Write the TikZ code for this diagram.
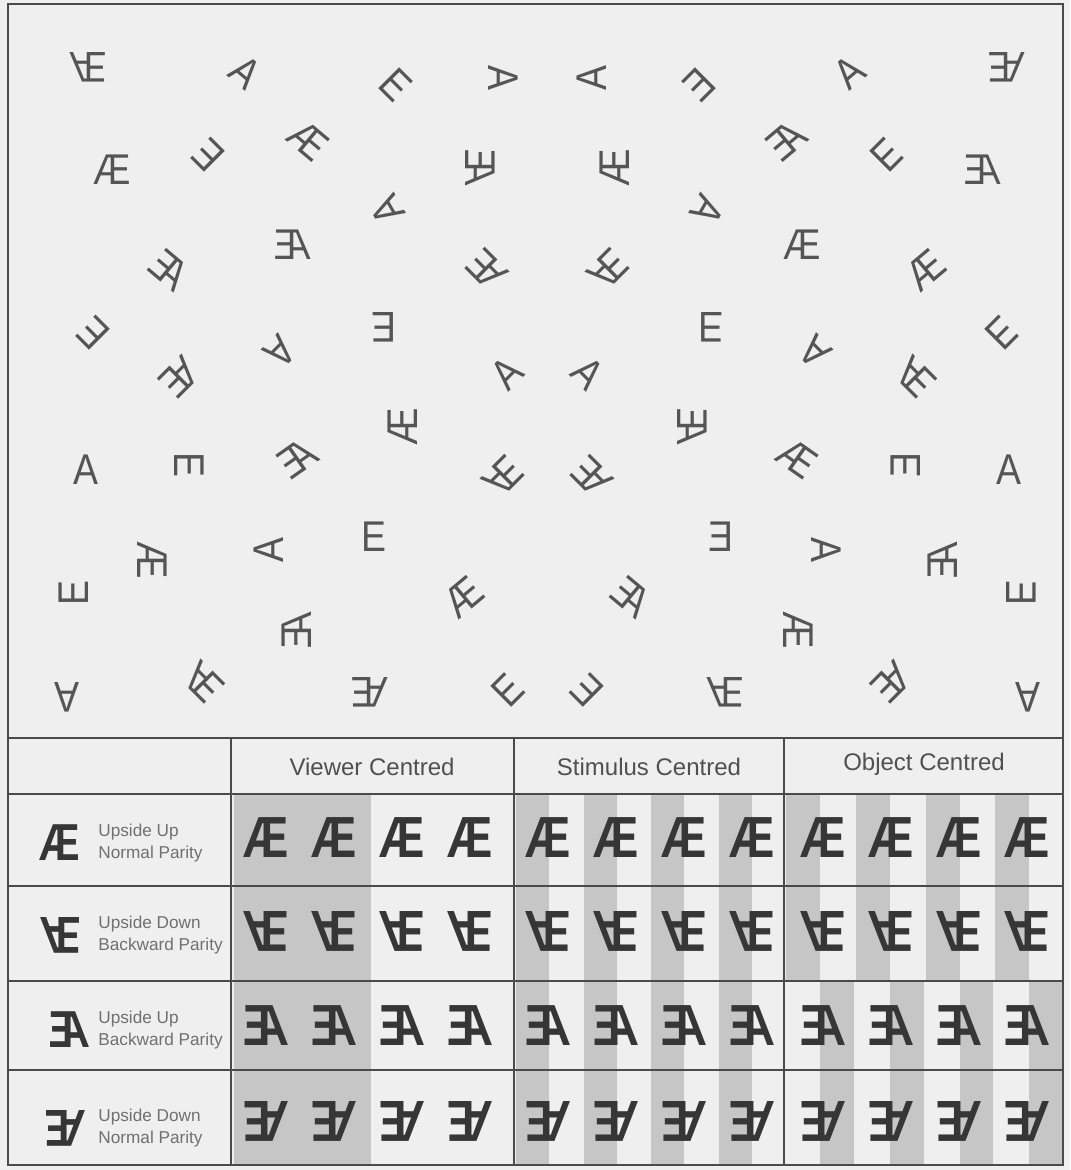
\documentclass[tikz,border=0pt]{standalone}
\usepackage{fontspec}
\setmainfont{Liberation Sans}
\usepackage{graphicx}
\usepackage{xcolor}
\definecolor{panelbg}{HTML}{EFEFEF}
\definecolor{stripegray}{HTML}{C6C6C6}
\definecolor{inkgray}{HTML}{555555}
\definecolor{darkink}{HTML}{363636}
\definecolor{labelgray}{HTML}{707070}
\definecolor{headgray}{HTML}{505050}
\definecolor{rulegray}{HTML}{4A4A4A}

% letters of the scattered panel
\newcommand{\glA}{\scalebox{0.87}[1]{A}}
\newcommand{\glE}{\scalebox{0.87}[1]{E}}
\newcommand{\glAE}{\scalebox{0.87}[1]{Æ}}
\newcommand{\glEA}{\scalebox{-0.87}[1]{Æ}}
% the four forms of the table
\newcommand{\aeN}{\scalebox{0.78}[1]{Æ}}
\newcommand{\aeV}{\scalebox{0.78}[-1]{Æ}}
\newcommand{\aeH}{\scalebox{-0.78}[1]{Æ}}
\newcommand{\aeR}{\rotatebox{180}{\aeN}}

\begin{document}
\begin{tikzpicture}[
  x=0.5pt, y=-0.5pt,
  letter/.style={inner sep=0pt, text=inkgray, font=\fontsize{21.5}{22}\selectfont},
  cellglyph/.style={inner sep=0pt, text=darkink, font=\fontsize{29}{30}\selectfont\bfseries},
  rowglyph/.style={inner sep=0pt, text=darkink, font=\fontsize{26}{27}\selectfont\bfseries},
  rowlabel/.style={inner sep=0pt, text=labelgray, align=left, font=\fontsize{8.6}{11}\selectfont},
  colhead/.style={inner sep=0pt, text=headgray, font=\fontsize{12}{13}\selectfont},
  rule/.style={draw=rulegray, line width=0.8pt},
]
  \useasboundingbox (0,0) rectangle (1070,1170);
  \fill[panelbg] (0,0) rectangle (1070,1170);

  % Scattered letters: left half, then its mirror image
  \foreach \x/\y/\g/\r [count=\i] in {
      88/67/\glEA/180, 246/72/\glA/-40, 396/85/\glE/-45, 503/78/\glA/-90,
      112/170/\glAE/0, 208/155/\glE/135, 308/140/\glAE/-40, 480/168/\glEA/-90,
      387/210/\glA/120,
      293/245/\glEA/0, 170/270/\glEA/-40, 487/270/\glAE/135,
      93/333/\glE/135, 180/377/\glAE/-135, 280/352/\glA/-135, 384/327/\glE/180, 507/373/\glA/45,
      86/470/\glA/0, 189/465/\glE/-90, 298/458/\glEA/35, 403/427/\glAE/90, 503/477/\glEA/-135,
      374/537/\glE/0, 269/550/\glA/90, 152/560/\glAE/-90, 74/593/\glE/90, 463/597/\glAE/40,
      297/630/\glEA/90,
      67/697/\glA/180, 203/682/\glEA/135, 370/692/\glAE/180, 508/690/\glE/45}{
    \node[letter, rotate=\r] (left\i) at (\x,\y) {\g};
    \node[letter, rotate={-(\r)}] (right\i) at (1095-\x,\y) {\reflectbox{\g}};
  }

  % Stripes
  \fill[stripegray] (234,794) rectangle (371,1165);
  \foreach \c in {0,...,3}{
    \fill[stripegray] (514+67.5*\c+2,794) rectangle (514+67.5*\c+35,1165);
    \fill[stripegray] (784+69.75*\c+2,794) rectangle (784+69.75*\c+36,981);
    \fill[stripegray] (784+69.75*\c+36,981) rectangle (784+69.75*\c+69.75,1165);
  }

  % Frame and table rules
  \draw[rule] (8,4) rectangle (1063,1165);
  \draw[rule] (8,738) -- (1063,738);
  \foreach \yy in {794,886,981,1070} \draw[rule] (8,\yy) -- (1063,\yy);
  \foreach \xx in {231,514,784} \draw[rule] (\xx,738) -- (\xx,1165);

  % Column heads
  \node[colhead] (viewer) at (372,767) {Viewer Centred};
  \node[colhead] (stimulus) at (649,767) {Stimulus Centred};
  \node[colhead] (object) at (924,764) {Object Centred};

  % Row labels
  \foreach \gl/\gx/\yy/\txt [count=\r] in {
      \aeN/60/843/{Upside Up\\Normal Parity},
      \aeV/61/935/{Upside Down\\Backward Parity},
      \aeH/69/1030/{Upside Up\\Backward Parity},
      \aeR/65/1128/{Upside Down\\Normal Parity}}{
    \node[rowglyph] (sample\r) at (\gx,\yy) {\gl};
    \node[rowlabel, anchor=west] (label\r) at (98,\yy) {\txt};
  }

  % Cells
  \foreach \gl/\yy [count=\r] in {\aeN/838, \aeV/931, \aeH/1026, \aeR/1121}{
    \foreach \xx [count=\c] in {266,334,402,470,548,616,684,752,823,891,959,1027}
      \node[cellglyph] (cell\r-\c) at (\xx,\yy) {\gl};
  }
\end{tikzpicture}
\end{document}
